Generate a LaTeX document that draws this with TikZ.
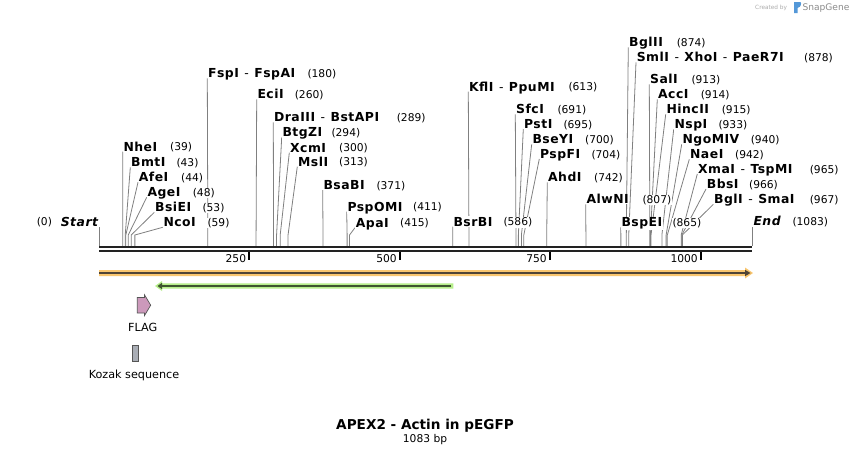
\documentclass[tikz,border=0pt]{standalone}
\usepackage{fontspec}
\setmainfont{DejaVu Sans}
\newfontfamily\enzfont[LetterSpace=4]{DejaVu Sans}
\usetikzlibrary{calc}
\definecolor{bb}{HTML}{222222}
\definecolor{cutgray}{HTML}{808080}
\definecolor{orfill}{HTML}{F9C66F}
\definecolor{ordark}{HTML}{4F4436}
\definecolor{grfill}{HTML}{B6EE8A}
\definecolor{grdark}{HTML}{3F5530}
\definecolor{flagc}{HTML}{CC99BB}
\definecolor{kozc}{HTML}{A9ADB5}
\definecolor{edgec}{HTML}{555555}
\pgfdeclarelayer{bgl}
\pgfdeclarelayer{lines}
\pgfsetlayers{bgl,lines,main}
\newcommand\dd{\hspace{5.5pt}{\mdseries -}\hspace{5.5pt}}
% id, label x, label y, name, number x, bp
\newcommand\enz[6]{%
  \begin{pgfonlayer}{lines}
  \draw[cutl] (#2,#3+5) -- ({99.3+0.603*#6},235) -- ({99.3+0.603*#6},246);
  \end{pgfonlayer}
  \node[nm] (n#1) at (#2,#3+4.3) {#4};
  \node[nu] (u#1) at (#5,#3+4) {(#6)};
}
\begin{document}
\begin{tikzpicture}[x=1pt,y=-1pt,
  nm/.style={anchor=base west,inner sep=0.6pt,fill=white,font=\enzfont\fontsize{12.4}{14}\selectfont\bfseries},
  nu/.style={anchor=base west,inner sep=0.6pt,fill=white,font=\fontsize{10.7}{13}\selectfont},
  cutl/.style={draw=cutgray,line width=0.8pt},
  backb/.style={draw=bb,line width=2.2pt},
  tickl/.style={draw=black,line width=1.8pt},
  ticklab/.style={anchor=base east,inner sep=0pt,font=\fontsize{10.7}{13}\selectfont},
  featlab/.style={inner sep=0pt,font=\fontsize{11.2}{13}\selectfont}]
\begin{pgfonlayer}{bgl}
\fill[white] (0,0) rectangle (852,456);
\end{pgfonlayer}
\useasboundingbox (0,0) rectangle (852,456);

% SnapGene credit
\node[anchor=base west,inner sep=0pt,text=black!32,font=\fontsize{5.8}{7}\selectfont] (cr) at (755,9.2) {Created by};
\fill[color=cyan!60!blue!70] (794,2) rectangle (797.5,13) (797.5,2) -- (800.5,2) .. controls (801.5,3) and (801.5,7) .. (797.5,8) -- cycle;
\node[anchor=base west,inner sep=0pt,text=black!45,font=\fontsize{9.1}{11}\selectfont] (sg) at (802.3,10.3) {SnapGene};

% backbone
\coordinate (s1) at (99.3,247);
\coordinate (e1) at (752.3,247);
\coordinate (s2) at (99.3,251.2);
\coordinate (e2) at (752.3,251.2);
\draw[backb] (s1) -- (e1);
\draw[backb] (s2) -- (e2);

% ticks
\foreach \t/\x in {250/249.3,500/400,750/550,1000/701}{
  \draw[tickl] (\x,252) -- (\x,259.5);
  \node[ticklab] (t\t) at (\x-3,262.5) {\t};
}

% start / end
\begin{pgfonlayer}{lines}
\draw[cutl] (99.3,227) -- (99.3,246);
\draw[cutl] (752.3,227) -- (752.3,246);
\end{pgfonlayer}
\node[nu] (u0) at (36,225.7) {(0)};
\node[nm,font=\enzfont\fontsize{12.4}{14}\selectfont\bfseries\itshape] (nstart) at (60,226) {Start};
\node[nm,font=\enzfont\fontsize{12.4}{14}\selectfont\bfseries\itshape] (nend) at (752.7,225.3) {End};
\node[nu] (u1083) at (791.7,225) {(1083)};

% enzymes
\enz{a}{122.7}{146.7}{NheI}{169.3}{39}
\enz{b}{130.3}{162.3}{BmtI}{175.7}{43}
\enz{c}{138}{177.3}{AfeI}{180.3}{44}
\enz{d}{146.7}{192.3}{AgeI}{192}{48}
\enz{e}{154.3}{207.3}{BsiEI}{201.7}{53}
\enz{f}{162.7}{222.3}{NcoI}{206.7}{59}
\enz{g}{207.3}{73.3}{FspI\dd FspAI}{306.7}{180}
\enz{h}{256.7}{94.3}{EciI}{294}{260}
\enz{i}{273.3}{117.3}{DraIII\dd BstAPI}{396}{289}
\enz{j}{281.7}{132.3}{BtgZI}{330.7}{294}
\enz{k}{289.3}{147.7}{XcmI}{338.3}{300}
\enz{l}{297.3}{161.7}{MslI}{338.3}{313}
\enz{m}{322.7}{185}{BsaBI}{375.7}{371}
\enz{n}{346.7}{206.7}{PspOMI}{412.3}{411}
\enz{o}{355}{222.7}{ApaI}{399.3}{415}
\enz{p}{452.7}{221.7}{BsrBI}{502.7}{586}
\enz{q}{468.3}{86.7}{KflI\dd PpuMI}{567.7}{613}
\enz{r}{515.3}{109.3}{SfcI}{556.7}{691}
\enz{s}{523.3}{124}{PstI}{562.7}{695}
\enz{t}{531.7}{139.3}{BseYI}{584.3}{700}
\enz{u}{539.3}{154}{PspFI}{590.7}{704}
\enz{v}{547.3}{177.3}{AhdI}{593.3}{742}
\enz{w}{585.7}{199.3}{AlwNI}{641.7}{807}
\enz{x}{628.3}{42.3}{BglII}{676}{874}
\enz{y}{636}{57.3}{SmlI\dd XhoI\dd PaeR7I}{803.3}{878}
\enz{z}{649.3}{79.3}{SalI}{690.7}{913}
\enz{A}{657.3}{94.3}{AccI}{700}{914}
\enz{B}{665.7}{109.3}{HincII}{721}{915}
\enz{C}{673.7}{124.3}{NspI}{717.7}{933}
\enz{D}{681.7}{139.3}{NgoMIV}{750}{940}
\enz{E}{689.3}{154.3}{NaeI}{734.3}{942}
\enz{F}{697.3}{169}{XmaI\dd TspMI}{809}{965}
\enz{G}{706}{184}{BbsI}{748.3}{966}
\enz{H}{713.3}{199.3}{BglI\dd SmaI}{809}{967}
\enz{I}{620.7}{222.3}{BspEI}{671.7}{865}

% orange feature (forward, full length)
\coordinate (o1) at (99,273);
\coordinate (o2) at (745,273);
\coordinate (o3) at (753,273);
\fill[orfill] (99,270) -- (745,270) -- (745,267.5) -- (o3) -- (745,278.5) -- (745,276) -- (99,276) -- cycle;
\draw[ordark,line width=2pt] (o1) -- (746,273);
\fill[ordark] (745,269.8) -- (750.5,273) -- (745,276.2) -- cycle;

% green feature (reverse)
\coordinate (g1) at (453.3,286);
\coordinate (g2) at (155,286);
\fill[grfill] (453.3,283.3) -- (162,283.3) -- (162,281) -- (g2) -- (162,291) -- (162,288.7) -- (453.3,288.7) -- cycle;
\draw[grdark,line width=2pt] (451,286) -- (161,286);
\fill[grdark] (162,282.8) -- (157.5,286) -- (162,289.2) -- cycle;

% FLAG
\draw[edgec,fill=flagc,line width=0.7pt] (137.3,297.5) -- (144.5,297.5) -- (144.5,294.8) -- (150.7,305.2) -- (144.5,315.6) -- (144.5,313) -- (137.3,313) -- cycle;
\node[featlab] (flag) at (142.7,327.7) {FLAG};

% Kozak
\draw[edgec,fill=kozc,line width=0.7pt] (132.3,345.7) rectangle (138.7,361);
\node[featlab] (kozak) at (134,375.5) {Kozak sequence};

% title
\node[inner sep=0pt,font=\fontsize{13.6}{16}\selectfont\bfseries] (title) at (425,425.7) {APEX2 - Actin in pEGFP};
\node[inner sep=0pt,font=\fontsize{10.7}{13}\selectfont] (len) at (425,439.7) {1083 bp};
\end{tikzpicture}
\end{document}
